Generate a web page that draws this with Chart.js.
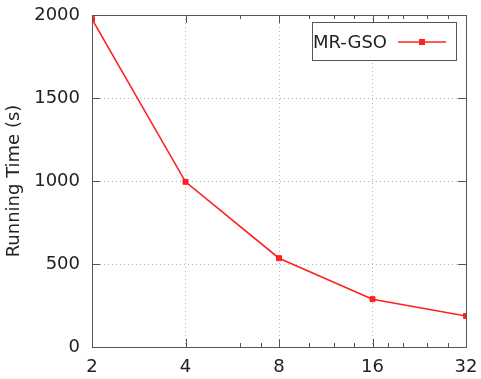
<!DOCTYPE html>
<html>
<head>
<meta charset="utf-8">
<script src="https://cdn.jsdelivr.net/npm/chart.js@4/dist/chart.umd.min.js"></script>
<style>
html,body{margin:0;padding:0;background:#fff;}
#wrap{width:481px;height:379px;position:relative;}
</style>
</head>
<body>
<div id="wrap"><canvas id="c" width="481" height="379"></canvas></div>
<script>
const nodes = [2, 4, 8, 16, 32];
const runningTime = [1975, 995, 535, 288, 187];
const seriesLabel = 'MR-GSO';
const yTicks = [0, 500, 1000, 1500, 2000];
const xMinorBottom = [6, 7, 10, 12, 14, 18, 20, 24, 28];
const xMinorTop = [6, 10, 12, 14, 18, 20, 24, 28];

const FONT = 'DejaVu Sans';
const RED = '#ff2020';
const FRAME = '#555555';

const points = nodes.map((n, i) => ({x: Math.log2(n), y: runningTime[i]}));

function zeroPad(s) { s.paddingLeft = 0; s.paddingRight = 0; s.paddingTop = 0; s.paddingBottom = 0; }

const framePlugin = {
  id: 'frame',
  afterDatasetsDraw(chart) {
    const ctx = chart.ctx, a = chart.chartArea;
    const xs = chart.scales.x, ys = chart.scales.y;
    ctx.save();
    ctx.strokeStyle = FRAME;
    ctx.lineWidth = 1;
    ctx.beginPath();
    nodes.forEach(n => {
      const px = Math.round(xs.getPixelForValue(Math.log2(n))) + 0.5;
      ctx.moveTo(px, a.bottom); ctx.lineTo(px, a.bottom - 8);
      ctx.moveTo(px, a.top); ctx.lineTo(px, a.top + 8);
    });
    xMinorBottom.forEach(n => {
      const px = Math.round(xs.getPixelForValue(Math.log2(n))) + 0.5;
      ctx.moveTo(px, a.bottom); ctx.lineTo(px, a.bottom - 4);
    });
    xMinorTop.forEach(n => {
      const px = Math.round(xs.getPixelForValue(Math.log2(n))) + 0.5;
      ctx.moveTo(px, a.top); ctx.lineTo(px, a.top + 4);
    });
    yTicks.forEach(v => {
      const py = Math.round(ys.getPixelForValue(v)) + 0.5;
      ctx.moveTo(a.left, py); ctx.lineTo(a.left + 8, py);
      ctx.moveTo(a.right, py); ctx.lineTo(a.right - 8, py);
    });
    ctx.stroke();
    ctx.strokeRect(Math.round(a.left) + 0.5, Math.round(a.top) + 0.5,
                   Math.round(a.right - a.left), Math.round(a.bottom - a.top));

    // legend (gnuplot style key)
    const ds = chart.data.datasets[0];
    const bx = 312.5, by = 22.5, bw = 144, bh = 38;
    ctx.fillStyle = '#fff';
    ctx.fillRect(bx, by, bw, bh);
    ctx.strokeStyle = FRAME;
    ctx.strokeRect(bx, by, bw, bh);
    ctx.fillStyle = '#222';
    ctx.font = '18px "' + FONT + '"';
    ctx.textBaseline = 'alphabetic';
    ctx.textAlign = 'left';
    ctx.fillText(ds.label, 313, 48);
    ctx.strokeStyle = ds.borderColor;
    ctx.lineWidth = ds.borderWidth;
    ctx.beginPath();
    ctx.moveTo(398, 42); ctx.lineTo(446, 42);
    ctx.stroke();
    ctx.fillStyle = ds.pointBackgroundColor;
    ctx.fillRect(419, 39, 6, 6);
    ctx.restore();
  }
};

new Chart(document.getElementById('c'), {
  type: 'line',
  data: {
    datasets: [{
      label: seriesLabel,
      data: points,
      borderColor: RED,
      backgroundColor: RED,
      pointBackgroundColor: RED,
      pointBorderColor: RED,
      borderWidth: 1.6,
      pointStyle: 'rect',
      pointRadius: 3.5,
      pointBorderWidth: 1,
      tension: 0,
      fill: false
    }]
  },
  options: {
    responsive: false,
    animation: false,
    devicePixelRatio: 1,
    layout: {padding: {left: 0, right: 15, top: 15, bottom: 0}},
    plugins: {legend: {display: false}, tooltip: {enabled: false}},
    scales: {
      x: {
        type: 'linear',
        min: 1, max: 5,
        afterBuildTicks(s) { s.ticks = nodes.map(n => ({value: Math.log2(n)})); },
        afterFit(s) { s.height = 32; zeroPad(s); },
        ticks: {
          callback: v => String(Math.round(Math.pow(2, v))),
          font: {family: FONT, size: 18},
          color: '#222',
          padding: 10,
          maxRotation: 0,
          autoSkip: false
        },
        grid: {
          drawTicks: false,
          color: c => (c.tick && (c.tick.value === 1 || c.tick.value === 5)) ? 'rgba(0,0,0,0)' : '#b4b4b4',
          lineWidth: 1
        },
        border: {display: false, dash: [1, 3]}
      },
      y: {
        type: 'linear',
        min: 0, max: 2000,
        afterBuildTicks(s) { s.ticks = yTicks.map(v => ({value: v})); },
        afterFit(s) { s.width = 92; zeroPad(s); },
        title: {
          display: true,
          text: 'Running Time (s)',
          font: {family: FONT, size: 18},
          color: '#222',
          padding: {top: 4, bottom: 0}
        },
        ticks: {
          callback: v => String(v),
          font: {family: FONT, size: 18},
          color: '#222',
          padding: 12
        },
        grid: {
          drawTicks: false,
          color: c => (c.tick && (c.tick.value === 0 || c.tick.value === 2000)) ? 'rgba(0,0,0,0)' : '#b4b4b4',
          lineWidth: 1
        },
        border: {display: false, dash: [1, 3]}
      }
    }
  },
  plugins: [framePlugin]
});
</script>
</body>
</html>
